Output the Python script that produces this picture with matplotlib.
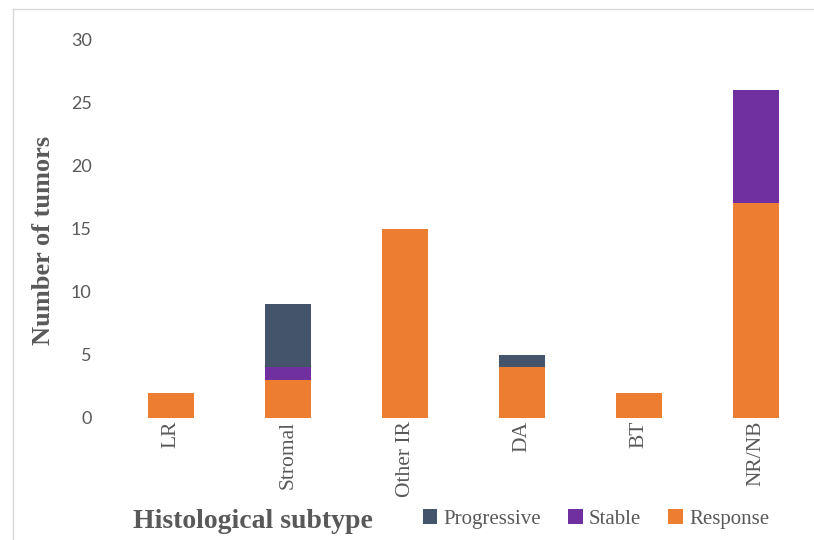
import matplotlib
matplotlib.use("Agg")
import matplotlib.pyplot as plt
from matplotlib.lines import Line2D
import numpy as np

categories = ["LR", "Stromal", "Other IR", "DA", "BT", "NR/NB"]
response = [2, 3, 15, 4, 2, 17]
stable = [0, 1, 0, 0, 0, 9]
progressive = [0, 5, 0, 1, 0, 0]
yticks = [0, 5, 10, 15, 20, 25, 30]

c_resp = "#ED7D31"
c_stab = "#7030A0"
c_prog = "#44546A"
gray = "#595959"
serif = ["Liberation Serif", "DejaVu Serif"]

fig = plt.figure(figsize=(8.14, 5.4), dpi=100)
ax = fig.add_axes([112.5 / 814, (540 - 418) / 540, 702 / 814, (418 - 39) / 540])

x = np.arange(len(categories))
w = 0.4
resp = np.array(response)
stab = np.array(stable)
prog = np.array(progressive)
ax.bar(x, resp, w, color=c_resp, label="Response")
ax.bar(x, stab, w, bottom=resp, color=c_stab, label="Stable")
ax.bar(x, prog, w, bottom=resp + stab, color=c_prog, label="Progressive")

ax.set_xlim(-0.5, len(categories) - 0.5)
ax.set_ylim(0, 30)
ax.set_yticks(yticks)
ax.set_yticklabels([str(v) for v in yticks], fontsize=13, color=gray, family="Lato")
ax.set_xticks(x)
ax.set_xticklabels(categories, rotation=90, fontsize=15.5, color=gray, family=serif)
ax.tick_params(axis="both", length=0)
ax.tick_params(axis="y", pad=15)
ax.tick_params(axis="x", pad=2)
for s in ax.spines.values():
    s.set_visible(False)

fig.text(44 / 814, 1 - 240 / 540, "Number of tumors", rotation=90, ha="center", va="center",
         fontsize=19, fontweight="bold", color=gray, family=serif)
fig.text(253 / 814, 1 - 521 / 540, "Histological subtype", ha="center", va="center",
         fontsize=20, fontweight="bold", color=gray, family=serif)

h, l = ax.get_legend_handles_labels()
leg = fig.legend(h[::-1], l[::-1], loc="center", bbox_to_anchor=(596 / 814, 1 - 519 / 540),
                 ncol=3, frameon=False, handlelength=0.7, handleheight=0.7,
                 handletextpad=0.3, columnspacing=1.3,
                 prop={"family": serif, "size": 15})
for t in leg.get_texts():
    t.set_color(gray)

fig.add_artist(Line2D([13 / 814, 13 / 814], [0, 1 - 9 / 540], transform=fig.transFigure,
                      color="#D9D9D9", lw=1))
fig.add_artist(Line2D([13 / 814, 1], [1 - 9 / 540, 1 - 9 / 540], transform=fig.transFigure,
                      color="#D9D9D9", lw=1))

fig.savefig("out.png", dpi=100)
